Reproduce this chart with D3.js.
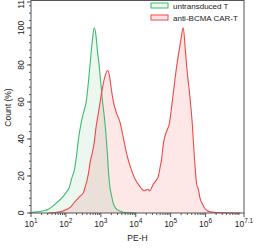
<!DOCTYPE html>
<html><head><meta charset="utf-8">
<script src="https://cdn.jsdelivr.net/npm/d3@7"></script>
<style>html,body{margin:0;padding:0;background:#fff;}svg{display:block;font-family:"Liberation Sans",Arial,sans-serif;}</style>
</head><body>
<svg id="c" width="261" height="250"></svg>
<script>
// log10(PE-H) positions and Count (%) values
const untransducedX = [1.0,1.2,1.35,1.5,1.64,1.76,1.88,2.0,2.1,2.17,2.25,2.31,2.36,2.43,2.5,2.58,2.64,2.69,2.75,2.81,2.86,2.9,2.95,3.0,3.05,3.1,3.14,3.18,3.22,3.26,3.3,3.36,3.43,3.5,3.6,3.7,3.8,4.0];
const untransducedY = [0.3,0.6,1.2,2,4,6,8,11,14,19,24,32,40,48,54,60,70,80,92,100,96,88,80,70,60,52,44,34,22,14,10,5,2.5,1.5,0.6,0.2,0.1,0];
const carTX = [1.5,1.7,1.9,2.0,2.12,2.21,2.3,2.4,2.5,2.55,2.61,2.66,2.69,2.75,2.81,2.86,2.93,2.98,3.05,3.12,3.19,3.25,3.3,3.36,3.45,3.55,3.63,3.74,3.88,3.98,4.1,4.24,4.3,4.35,4.4,4.45,4.5,4.58,4.65,4.7,4.74,4.78,4.83,4.9,4.96,5.05,5.17,5.28,5.36,5.42,5.46,5.56,5.62,5.68,5.75,5.79,5.84,5.92,5.96,6.05,6.13,6.3,6.5,7.0];
const carTY = [0,0.3,1,1.8,3,5,7,9,11,14,18,23,27,32,38,46,54,60,68,74,77,74,67,60,54,49,42,32,23,18.4,14.8,12,12.5,12.8,12,13.5,15.5,17.5,20,25,29,36,41,45,48,61,79,92,100,88,79,61,48,30,15,13,8,4.5,3,1.2,0.6,0.3,0.1,0];
const seriesNames = ["untransduced T","anti-BCMA CAR-T"];
const yTicks = [0,20,40,60,80,100,114];
const xDecades = [1,2,3,4,5,6];
const xMax = 7.1;

const svg = d3.select("#c");
const L=31, R=244, T=2, B=213;
const x = d3.scaleLinear().domain([1,xMax]).range([L,R]);
const y = d3.scaleLinear().domain([0,114]).range([B,T]);

const series = [
  {name:seriesNames[0], xs:untransducedX, ys:untransducedY, stroke:"#3dba72", fill:"rgba(60,180,100,0.1)"},
  {name:seriesNames[1], xs:carTX, ys:carTY, stroke:"#f04848", fill:"rgba(240,60,60,0.12)"}
];
const area = d3.area().x(d=>x(d[0])).y0(y(0)).y1(d=>y(d[1])).curve(d3.curveMonotoneX);
const line = d3.line().x(d=>x(d[0])).y(d=>y(d[1])).curve(d3.curveMonotoneX);
series.forEach(s=>{ s.pts = s.xs.map((v,i)=>[v,s.ys[i]]); });
series.forEach(s=>{
  svg.append("path").attr("d",area(s.pts)).attr("fill",s.fill).attr("stroke","none");
});
series.forEach(s=>{
  svg.append("path").attr("d",line(s.pts)).attr("fill","none").attr("stroke",s.stroke).attr("stroke-width",1.1);
});

const frame="#555";
// frame
svg.append("rect").attr("x",L).attr("y",T-1.5).attr("width",R-L).attr("height",B-T+1.5)
  .attr("fill","none").attr("stroke",frame).attr("stroke-width",1);

// y ticks
const yMinor = d3.range(0,115,4);
svg.append("g").selectAll("line").data(yMinor).join("line")
  .attr("x1",L-2).attr("x2",L).attr("y1",d=>y(d)).attr("y2",d=>y(d)).attr("stroke",frame);
svg.append("g").selectAll("line").data(yTicks).join("line")
  .attr("x1",L-4).attr("x2",L).attr("y1",d=>y(d)).attr("y2",d=>y(d)).attr("stroke",frame);
svg.append("g").selectAll("text").data(yTicks).join("text")
  .attr("transform",d=>`translate(23.5,${y(d)}) rotate(-90)`)
  .attr("text-anchor","middle").attr("font-size",8.5).attr("fill","#222").text(d=>d);

// x ticks
const xMinor=[];
xDecades.forEach(d=>{ for(let k=2;k<=9;k++){ const v=d+Math.log10(k); if(v<xMax) xMinor.push(v);} });
for(let k=2;k<=9;k++){ const v=7+Math.log10(k); if(v<xMax) xMinor.push(v); }
svg.append("g").selectAll("line").data(xMinor).join("line")
  .attr("x1",d=>x(d)).attr("x2",d=>x(d)).attr("y1",B).attr("y2",B+2).attr("stroke",frame);
const xMajor = xDecades.concat([xMax]);
svg.append("g").selectAll("line").data(xMajor).join("line")
  .attr("x1",d=>x(d)).attr("x2",d=>x(d)).attr("y1",B).attr("y2",B+4).attr("stroke",frame);
const xl = svg.append("g").selectAll("text").data(xMajor).join("text")
  .attr("x",d=>x(d)).attr("y",226.5).attr("text-anchor","middle").attr("font-size",8.5).attr("fill","#222");
xl.append("tspan").text("10");
xl.append("tspan").attr("dy",-3.5).attr("font-size",6.5).text(d=>d);

// axis titles
svg.append("text").attr("x",(L+R)/2).attr("y",241).attr("text-anchor","middle")
  .attr("font-size",8.5).attr("fill","#222").text("PE-H");
svg.append("text").attr("transform",`translate(11,${(T+B)/2}) rotate(-90)`).attr("text-anchor","middle")
  .attr("font-size",8.5).attr("fill","#222").text("Count (%)");

// legend
series.forEach((s,i)=>{
  const ly = 5.5 + i*12;
  svg.append("rect").attr("x",151).attr("y",ly-2.5).attr("width",17).attr("height",5)
    .attr("fill",s.fill).attr("stroke",s.stroke).attr("stroke-width",1);
  svg.append("text").attr("x",173).attr("y",ly+3).attr("font-size",8).attr("fill","#222").text(s.name);
});
</script>
</body></html>
